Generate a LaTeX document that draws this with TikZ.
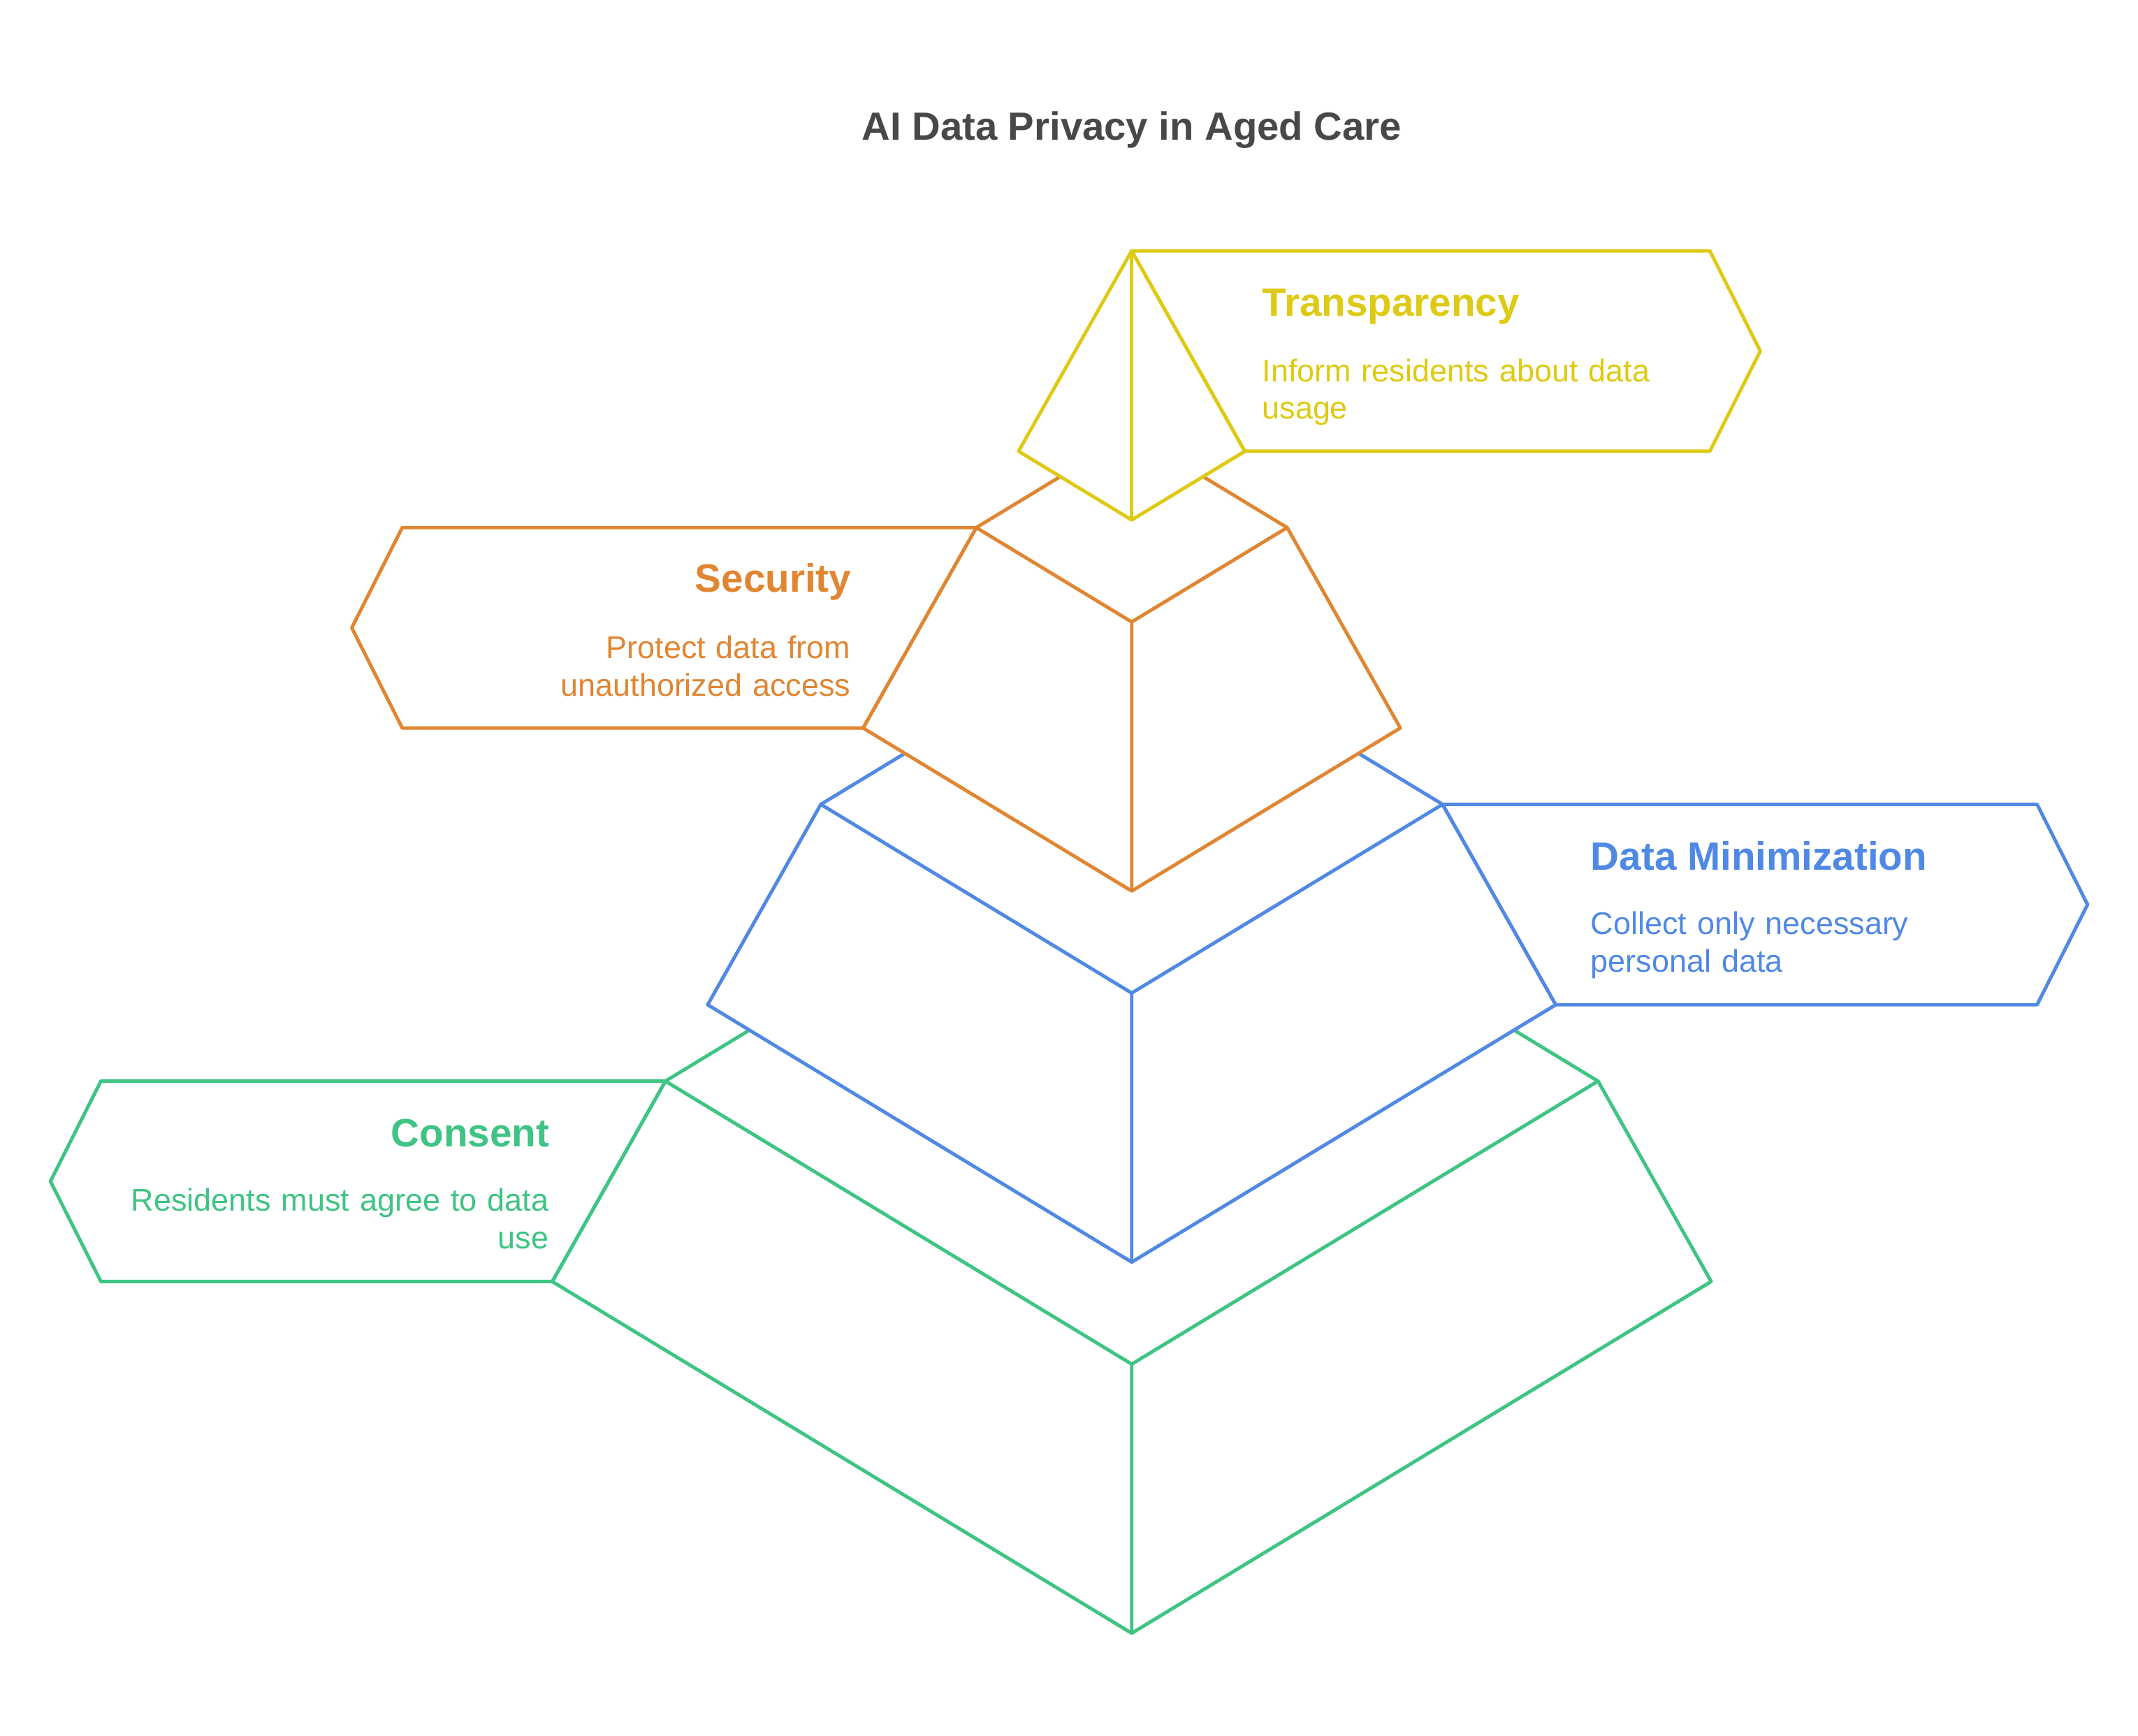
\documentclass[tikz,border=0pt]{standalone}
\usepackage{fontspec}
\setmainfont{Liberation Sans}
\definecolor{titlegray}{RGB}{72,72,72}
\definecolor{transyellow}{RGB}{222,202,20}
\definecolor{secorange}{RGB}{224,134,50}
\definecolor{minblue}{RGB}{80,137,228}
\definecolor{consentgreen}{RGB}{62,196,131}

\begin{document}
\begin{tikzpicture}[
  x=0.01cm, y=-0.01cm,
  layer/.style={line width=0.72pt, line join=round, fill=white},
  labelbox/.style={line width=0.72pt, line join=round, fill=white},
  title/.style={font=\fontsize{8.2}{10}\selectfont\bfseries, text=titlegray, inner sep=0},
  head/.style={font=\fontsize{8.25}{10}\selectfont\bfseries, inner sep=0},
  desc/.style={font=\fontsize{6.55}{7.8}\selectfont, inner sep=0, text width=3.4cm},
]
  \useasboundingbox (0,0) rectangle (1568,1273);

  \node[title, anchor=base] (title) at (830,103) {AI Data Privacy in Aged Care};

  % pyramid layers, bottom one first so the upper ones hide the back edges
  \foreach \k/\col in {3/consentgreen, 2/minblue, 1/secorange, 0/transyellow} {
    \pgfmathsetmacro\a{114*\k}
    \pgfmathsetmacro\b{\a+83}
    \pgfmathsetmacro\yt{184+203*\k}
    \pgfmathsetmacro\yb{\yt+147}
    \coordinate (tl\k) at (830-\a,\yt);
    \coordinate (tr\k) at (830+\a,\yt);
    \coordinate (bl\k) at (830-\b,\yb);
    \coordinate (br\k) at (830+\b,\yb);
    \coordinate (back\k) at (830,\yt-0.607*\a);
    \coordinate (front\k) at (830,\yt+0.607*\a);
    \coordinate (tip\k) at (830,\yb+0.607*\b);
    \draw[layer, draw=\col] (tl\k) -- (back\k) -- (tr\k) -- (br\k) -- (tip\k) -- (bl\k) -- cycle;
    \draw[layer, fill=none, draw=\col] (tl\k) -- (front\k) -- (tr\k) (front\k) -- (tip\k);
  }

  % label boxes
  \draw[labelbox, draw=transyellow] (tr0) -- ++(424,0) -- ++(37,73.5) -- ++(-37,73.5) -- (br0) -- cycle;
  \draw[labelbox, draw=secorange] (tl1) -- ++(-421,0) -- ++(-37,73.5) -- ++(37,73.5) -- (bl1) -- cycle;
  \draw[labelbox, draw=minblue] (tr2) -- ++(436,0) -- ++(37,73.5) -- ++(-37,73.5) -- (br2) -- cycle;
  \draw[labelbox, draw=consentgreen] (tl3) -- ++(-414,0) -- ++(-37,73.5) -- ++(37,73.5) -- (bl3) -- cycle;

  % texts
  \node[head, anchor=base west, text=transyellow] (transpHead) at (925,232) {Transparency};
  \node[desc, anchor=base west, align=left, text=transyellow] (transpText) at (925,280) {Inform residents about data\\usage};

  \node[head, anchor=base east, text=secorange] (secHead) at (625,434.5) {Security};
  \node[desc, anchor=base east, align=right, text=secorange] (secText) at (624.5,483) {Protect data from\\unauthorized access};

  \node[head, anchor=base west, text=minblue] (minHead) at (1166,638) {Data Minimization};
  \node[desc, anchor=base west, align=left, text=minblue] (minText) at (1166,685.5) {Collect only necessary\\personal data};

  \node[head, anchor=base east, text=consentgreen] (consHead) at (403.5,841) {Consent};
  \node[desc, anchor=base east, align=right, text=consentgreen] (consText) at (403,888.5) {Residents must agree to data\\use};
\end{tikzpicture}
\end{document}
